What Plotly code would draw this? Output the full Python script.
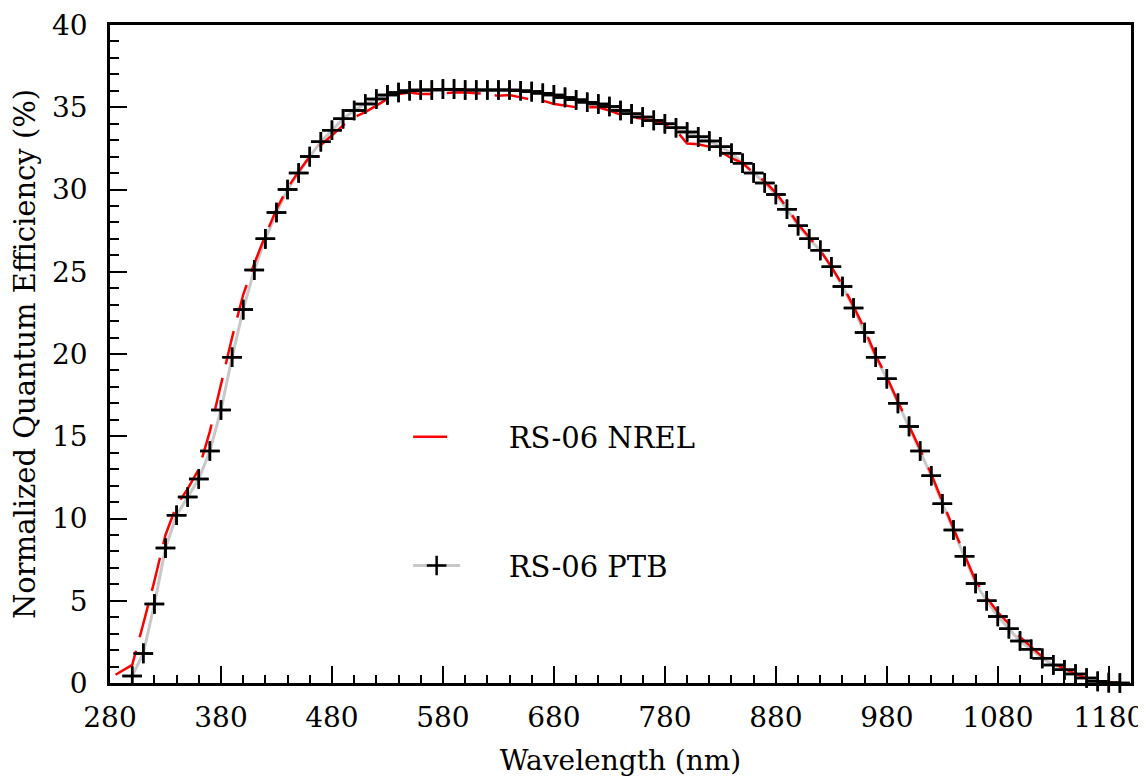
import plotly.graph_objects as go

# PTB measurement (10 nm steps)
ptb_wl = list(range(300, 1200, 10))
ptb_qe = [0.43, 1.8, 4.8, 8.2, 10.2, 11.3, 12.4, 14.1, 16.6, 19.8,
          22.7, 25.1, 27.0, 28.6, 30.0, 31.0, 32.0, 32.9, 33.6, 34.3,
          34.8, 35.2, 35.5, 35.75, 35.9, 36.0, 36.05, 36.05, 36.1, 36.1,
          36.05, 36.05, 36.05, 36.05, 36.05, 36.0, 35.95, 35.85, 35.75, 35.6,
          35.45, 35.3, 35.2, 35.05, 34.8, 34.6, 34.4, 34.2, 34.0, 33.75,
          33.5, 33.2, 32.95, 32.6, 32.2, 31.6, 31.0, 30.4, 29.7, 28.8,
          27.8, 27.0, 26.3, 25.3, 24.1, 22.8, 21.3, 19.8, 18.5, 17.0,
          15.6, 14.1, 12.6, 10.9, 9.3, 7.7, 6.05, 5.0, 4.05, 3.3,
          2.55, 2.05, 1.5, 1.1, 0.8, 0.55, 0.3, 0.1, 0.02, 0.0]

# NREL measurement
nrel_wl = [285, 300, 310, 320, 330, 340, 350, 360, 370, 380, 390, 400, 410, 420,
           430, 440, 450, 460, 470, 480, 490, 500, 510, 520, 530, 540, 550, 560,
           570, 580, 590, 600, 610, 620, 630, 640, 650, 660, 670, 680, 690, 700,
           710, 720, 730, 740, 750, 760, 770, 780, 790, 800, 810, 820, 830, 840,
           850, 860, 870, 880, 890, 900, 910, 920, 930, 940, 950, 960, 970, 980,
           990, 1000, 1010, 1020, 1030, 1040, 1050, 1060, 1070, 1080, 1090, 1100,
           1110, 1120, 1130, 1140, 1150, 1160, 1170, 1180, 1190]
nrel_qe = [0.5, 1.1, 3.6, 6.2, 9.0, 10.8, 11.8, 13.0, 15.3, 18.2, 21.0, 23.6, 25.5, 27.2,
           28.8, 30.1, 31.1, 32.0, 32.7, 33.3, 33.9, 34.4, 34.7, 35.1, 35.5, 35.8, 35.9, 35.8,
           35.8, 35.85, 35.9, 35.9, 35.85, 35.8, 35.7, 35.75, 35.6, 35.45, 35.4, 35.2, 35.1, 35.0,
           35.0, 35.0, 34.8, 34.55, 34.4, 34.3, 34.15, 34.0, 33.6, 32.8, 32.75, 32.6, 32.3, 31.9,
           31.6, 31.0, 30.5, 29.8, 28.9, 27.9, 27.1, 26.3, 25.3, 24.2, 22.9, 21.5, 19.9, 18.6,
           17.1, 15.7, 14.2, 12.7, 11.0, 9.4, 7.8, 6.2, 5.2, 4.3, 3.6, 2.8,
           2.2, 1.6, 1.2, 0.85, 0.55, 0.3, 0.12, 0.03, 0.0]

series_names = ["RS-06 NREL", "RS-06 PTB"]

FONT = "DejaVu Serif"
PAD = "\u2003\u2002"  # visual gap between legend sample and label

fig = go.Figure()

fig.add_trace(go.Scatter(
    x=ptb_wl, y=ptb_qe, mode="lines+markers", name=PAD + series_names[1],
    line=dict(color="#c8c8c8", width=3),
    marker=dict(symbol="cross-thin", size=14, line=dict(color="black", width=2.5)),
    legendgroup="ptb", legendrank=2, cliponaxis=False,
))
fig.add_trace(go.Scatter(
    x=nrel_wl, y=nrel_qe, mode="lines", name=PAD + series_names[0],
    line=dict(color="#ff0000", width=2.5, dash="34px,14px"),
    legendgroup="nrel", legendrank=1, cliponaxis=False,
))
fig.add_trace(go.Scatter(
    x=ptb_wl, y=ptb_qe, mode="markers", showlegend=False,
    marker=dict(symbol="cross-thin", size=14, line=dict(color="black", width=2.5)),
    legendgroup="ptb", cliponaxis=False, hoverinfo="skip",
))

axis_common = dict(
    showline=True, linecolor="black", linewidth=2.5, mirror=True,
    showgrid=False, zeroline=False, ticks="inside", tickcolor="black",
    tickwidth=2, ticklen=17, automargin=False, ticklabeloverflow="allow",
    tickfont=dict(family=FONT, size=28, color="black"),
)

fig.update_xaxes(
    range=[280, 1200], tick0=280, dtick=100,
    minor=dict(tick0=280, dtick=20, ticks="inside", ticklen=8, tickwidth=2, tickcolor="black"),
    title=dict(text="Wavelength (nm)", font=dict(family=FONT, size=28, color="black"), standoff=18),
    ticklabelstandoff=8,
    **axis_common,
)
fig.update_yaxes(
    range=[0, 40], tick0=0, dtick=5,
    minor=dict(tick0=0, dtick=1, ticks="inside", ticklen=9, tickwidth=2, tickcolor="black"),
    title=dict(text="Normalized Quantum Efficiency (%)", font=dict(family=FONT, size=29, color="black"), standoff=24),
    ticklabelstandoff=14,
    **axis_common,
)

fig.update_layout(
    width=1138, height=775,
    margin=dict(l=102, r=15, t=17, b=100),
    paper_bgcolor="white", plot_bgcolor="white",
    font=dict(family=FONT, color="black"),
    legend=dict(
        x=0.292, y=0.276, xanchor="left", yanchor="middle",
        font=dict(family=FONT, size=29, color="black"),
        bgcolor="rgba(0,0,0,0)", tracegroupgap=88, itemwidth=47,
    ),
)

fig.write_html("out.html")
